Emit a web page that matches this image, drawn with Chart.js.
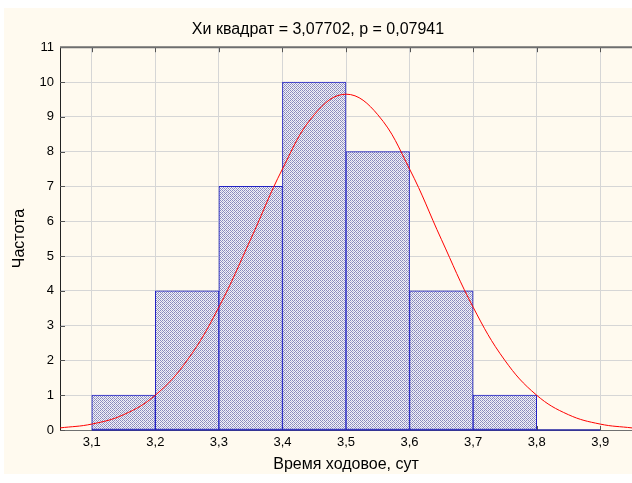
<!DOCTYPE html>
<html>
<head>
<meta charset="utf-8">
<script src="https://cdn.jsdelivr.net/npm/chart.js@4/dist/chart.umd.min.js"></script>
<style>
  html, body { margin: 0; padding: 0; background: #ffffff; }
  #wrap { position: absolute; left: 4px; top: 8px; width: 628px; height: 466px; background: #fffaef; }
</style>
</head>
<body>
<div id="wrap"><canvas id="histChart" width="628" height="466"></canvas></div>
<script>
// Гистограмма: границы интервалов и частоты
const binStarts = [3.1, 3.2, 3.3, 3.4, 3.5, 3.6, 3.7, 3.8];
const binWidth = 0.1;
const counts = [1, 4, 7, 10, 8, 4, 1, 0];

// Кривая нормального распределения
const curveX = [3.05, 3.10, 3.15, 3.20, 3.25, 3.30, 3.35, 3.40, 3.45, 3.50,
                3.55, 3.60, 3.65, 3.70, 3.75, 3.80, 3.85, 3.90, 3.95];
const curveY = [0.06, 0.17, 0.44, 1.00, 2.00, 3.53, 5.48, 7.50, 9.06, 9.65,
                9.06, 7.50, 5.48, 3.53, 2.00, 1.00, 0.44, 0.17, 0.06];

// Подписи осей
const xTicks = [3.1, 3.2, 3.3, 3.4, 3.5, 3.6, 3.7, 3.8, 3.9];
const yTicks = [0, 1, 2, 3, 4, 5, 6, 7, 8, 9, 10, 11];

const FONT = '"Liberation Sans", Arial, sans-serif';
Chart.defaults.font.family = FONT;
Chart.defaults.color = '#000000';

// мелкая штриховка столбцов
function makePattern() {
    const c = document.createElement('canvas');
    c.width = 4; c.height = 4;
    const g = c.getContext('2d');
    const B = '#8a8abc', W = '#f2f2f8', L = '#babad8';
    const map = [
        [B, W, B, W],
        [W, B, W, L],
        [B, W, B, W],
        [W, L, W, B]
    ];
    for (let y = 0; y < 4; y++) {
        for (let x = 0; x < 4; x++) {
            g.fillStyle = map[y][x];
            g.fillRect(x, y, 1, 1);
        }
    }
    return g.createPattern(c, 'repeat');
}

// рамка, внутренние засечки и нижняя граница пустого интервала
const framePlugin = {
    id: 'frame',
    beforeDatasetsDraw(chart) {
        const { ctx, chartArea: a, scales } = chart;
        ctx.save();
        ctx.strokeStyle = '#555555';
        ctx.lineWidth = 1;
        ctx.beginPath();
        xTicks.forEach(v => {
            const px = Math.round(scales.x.getPixelForValue(v)) + 0.5;
            ctx.moveTo(px, a.top);
            ctx.lineTo(px, a.top + 5);
            ctx.moveTo(px, a.bottom);
            ctx.lineTo(px, a.bottom - 4);
        });
        yTicks.forEach(v => {
            const py = Math.round(scales.y.getPixelForValue(v)) + 0.5;
            ctx.moveTo(a.left, py);
            ctx.lineTo(a.left + 5, py);
        });
        ctx.stroke();
        ctx.strokeStyle = '#6e6e6e';
        ctx.lineWidth = 2;
        ctx.beginPath();
        ctx.moveTo(a.left, a.top);
        ctx.lineTo(a.right, a.top);
        ctx.stroke();
        // нижняя граница столбцов по оси (в т.ч. нулевых)
        ctx.strokeStyle = '#2222a0';
        ctx.lineWidth = 1.5;
        ctx.beginPath();
        const y0 = scales.y.getPixelForValue(0);
        ctx.moveTo(scales.x.getPixelForValue(binStarts[0]), y0);
        ctx.lineTo(scales.x.getPixelForValue(binStarts[binStarts.length - 1] + binWidth), y0);
        ctx.stroke();
        ctx.restore();
    }
};

const ctx = document.getElementById('histChart').getContext('2d');

new Chart(ctx, {
    data: {
        datasets: [
            {
                type: 'line',
                data: curveX.map((x, i) => ({ x: x, y: curveY[i] })),
                borderColor: '#ff0000',
                borderWidth: 1,
                pointRadius: 0,
                tension: 0.4,
                fill: false,
                order: 0
            },
            {
                type: 'bar',
                data: binStarts.map((s, i) => ({ x: s + binWidth / 2, y: counts[i] })),
                backgroundColor: makePattern(),
                borderColor: '#2222c4',
                borderWidth: 1,
                borderSkipped: false,
                barPercentage: 1,
                categoryPercentage: 1,
                order: 1
            }
        ]
    },
    options: {
        responsive: false,
        animation: false,
        layout: { padding: { top: 0, right: 0, left: 0, bottom: 0 } },
        plugins: {
            legend: { display: false },
            tooltip: { enabled: false },
            title: {
                display: true,
                text: 'Хи квадрат = 3,07702, p = 0,07941',
                color: '#000000',
                font: { size: 16, weight: 'normal', family: FONT },
                padding: { top: 12, bottom: 8 }
            }
        },
        scales: {
            x: {
                type: 'linear',
                offset: false,
                min: 3.05,
                max: 3.95,
                afterBuildTicks: s => { s.ticks = xTicks.map(v => ({ value: v })); },
                afterFit: s => { s.height = 44; },
                grid: { color: '#d6d6d6', drawTicks: false, offset: false },
                border: { color: '#707070', width: 1 },
                ticks: {
                    padding: 5,
                    font: { size: 13 },
                    autoSkip: false,
                    maxRotation: 0,
                    callback: v => v.toFixed(1).replace('.', ',')
                },
                title: {
                    display: true,
                    text: 'Время ходовое, сут',
                    font: { size: 16 },
                    padding: { top: 0, bottom: 0 }
                }
            },
            y: {
                min: 0,
                max: 11,
                afterBuildTicks: s => { s.ticks = yTicks.map(v => ({ value: v })); },
                afterFit: s => { s.width = 56; },
                grid: { color: '#d6d6d6', drawTicks: false },
                border: { color: '#222222', width: 1 },
                ticks: {
                    padding: 6,
                    font: { size: 13 }
                },
                title: {
                    display: true,
                    text: 'Частота',
                    font: { size: 16 },
                    padding: { top: 6, bottom: 0 }
                }
            }
        }
    },
    plugins: [framePlugin]
});
</script>
</body>
</html>
